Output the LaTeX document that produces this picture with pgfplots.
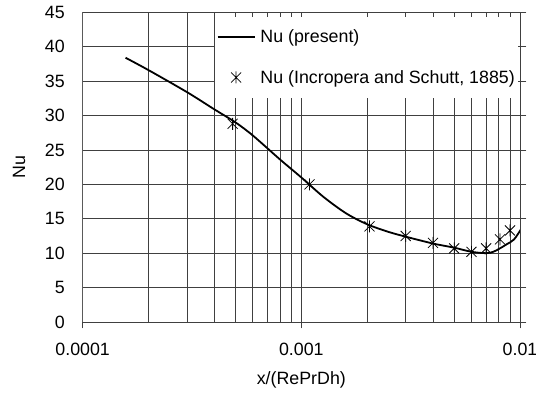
\documentclass[border=0pt]{standalone}
\usepackage{fontspec}
\setmainfont{Liberation Sans}
\usepackage{pgfplots}
\pgfplotsset{compat=1.18}
\usetikzlibrary{calc}

% Excel-style star: an X with a vertical bar through it
\pgfdeclareplotmark{xstar}{%
  \pgfpathmoveto{\pgfqpoint{-\pgfplotmarksize}{-\pgfplotmarksize}}%
  \pgfpathlineto{\pgfqpoint{\pgfplotmarksize}{\pgfplotmarksize}}%
  \pgfpathmoveto{\pgfqpoint{-\pgfplotmarksize}{\pgfplotmarksize}}%
  \pgfpathlineto{\pgfqpoint{\pgfplotmarksize}{-\pgfplotmarksize}}%
  \pgfpathmoveto{\pgfqpoint{0pt}{-1.2\pgfplotmarksize}}%
  \pgfpathlineto{\pgfqpoint{0pt}{1.2\pgfplotmarksize}}%
  \pgfusepathqstroke}

\newcommand{\chartfont}{\fontsize{17.8bp}{20.5bp}\selectfont}

\begin{document}
\begin{tikzpicture}
\begin{axis}[
  name=ax,
  scale only axis, width=437.3bp, height=309.7bp,
  xmode=log, xmin=1e-4, xmax=1e-2, ymin=0, ymax=45,
  xtick={1e-4,1e-3,1e-2}, xticklabels={0.0001,0.001,0.01},
  ytick={0,5,10,15,20,25,30,35,40,45},
  yticklabels={0,5,10,15,20,25,30,35,40,45},
  grid=both,
  major grid style={black!75, line width=0.75bp},
  minor grid style={black!75, line width=0.75bp},
  axis line style={draw=none},
  tick align=outside,
  xtick pos=lower, ytick pos=upper, yticklabel pos=lower,
  major tick length=6.5bp, minor tick length=0pt,
  tick style={black!75, line width=0.75bp},
  font=\chartfont,
  xticklabel style={yshift=-11bp},
  yticklabel style={xshift=-8bp},
  xlabel={x/(RePrDh)}, ylabel={Nu},
  xlabel style={at={(axis description cs:0.5,-0.1873)}, anchor=center},
  ylabel style={at={(axis description cs:-0.1457,0.5)}, anchor=center},
  legend style={at={(rel axis cs:1,1)}, anchor=north east,
    xshift=-1.5bp, yshift=-4.4bp, draw=none, fill=white,
    inner xsep=1.5bp, inner ysep=11bp, row sep=22bp,
    nodes={inner sep=2bp}, font=\chartfont,
    /tikz/every odd column/.append style={column sep=3bp}},
  legend cell align=left,
  legend image code/.code={\draw[mark repeat=2,mark phase=2,#1]
    plot coordinates {(0bp,0bp) (18.5bp,0bp) (37bp,0bp)};},
]
\addplot[black, line width=1.8bp, smooth, tension=0.5, no marks] coordinates {
  (1.57e-4,38.4) (2.0e-4,36.6) (3.0e-4,33.4) (4.0e-4,30.9) (5.0e-4,29.0)
  (6.0e-4,27.1) (8.0e-4,23.6) (1.0e-3,21.0) (1.26e-3,18.2) (1.6e-3,15.8)
  (2.0e-3,14.2) (2.5e-3,13.1) (3.0e-3,12.4) (4.0e-3,11.4) (5.0e-3,10.8)
  (6.0e-3,10.2) (7.0e-3,10.0) (7.55e-3,10.2) (8.1e-3,10.7) (8.7e-3,11.3)
  (9.4e-3,12.0) (1.016e-2,13.6)
};
\addlegendentry{Nu (present)}
\addplot[only marks, mark=xstar, mark size=5bp,
  mark options={black, line width=0.8bp}] coordinates {
  (4.85e-4,28.8) (1.09e-3,20.0) (2.05e-3,13.9) (3.0e-3,12.5) (4.0e-3,11.5)
  (5.0e-3,10.7) (6.0e-3,10.2) (7.0e-3,10.7) (8.1e-3,12.0) (9.0e-3,13.3)
};
\addlegendentry{Nu (Incropera and Schutt, 1885)}
% left axis line, lighter than the grid
\draw[black!45, line width=0.9bp] (rel axis cs:0,0) -- (rel axis cs:0,1);
\end{axis}
\pgfresetboundingbox
\path ($(ax.south west)+(-82.7bp,-72bp)$) rectangle ($(ax.north east)+(16bp,12.3bp)$);
\end{tikzpicture}
\end{document}
